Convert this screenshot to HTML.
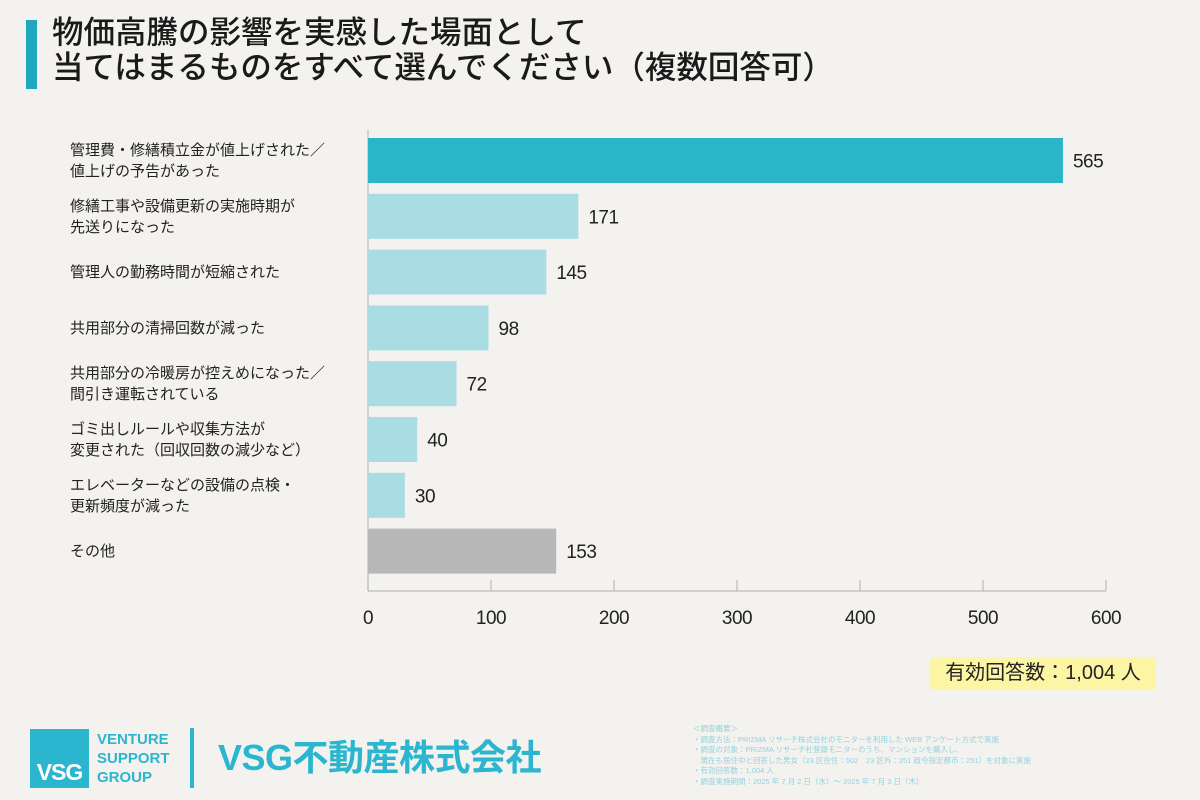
<!DOCTYPE html>
<html><head><meta charset="utf-8">
<style>
body{margin:0;width:1200px;height:800px;background:#f4f2ef;font-family:"Liberation Sans","Noto Sans CJK JP",sans-serif;overflow:hidden;position:relative;color:#222}
.t{position:absolute}
</style></head><body>
<div class="t" style="left:26px;top:20px;width:11px;height:69px;background:#1fa8bd"></div>
<div class="t" style="left:52px;top:15px;font-size:31.5px;line-height:35px;font-weight:500;color:#1a1a1a;white-space:nowrap">物価高騰の影響を実感した場面として<br>当てはまるものをすべて選んでください（複数回答可）</div>
<svg class="t" style="left:0;top:0" width="1200" height="800" id="chart"></svg>
<div class="t" style="left:930px;top:657px;width:226px;height:33px;background:#fbf5a4;border-radius:4px;font-size:20px;line-height:33px;text-align:center">有効回答数：1,004 人</div>
<div class="t" style="left:30px;top:729px;width:59px;height:59px;background:#2bb5cf;color:#fff;font-weight:bold;font-size:23px;line-height:24px;box-sizing:border-box;padding-top:31px;text-align:center;letter-spacing:-1px">VSG</div>
<div class="t" style="left:97px;top:730px;font-size:15px;line-height:19px;font-weight:bold;color:#2bb5cf">VENTURE<br>SUPPORT<br>GROUP</div>
<div class="t" style="left:190px;top:728px;width:4px;height:60px;background:#2bb5cf"></div>
<div class="t" style="left:218px;top:736px;font-size:36px;line-height:44px;font-weight:bold;color:#2bb5cf;letter-spacing:-0.5px;white-space:nowrap">VSG不動産株式会社</div>
<div class="t" style="left:693px;top:724px;font-size:7.5px;line-height:10.5px;color:#8fd3df">＜調査概要＞<br>・調査方法：PRIZMA リサーチ株式会社のモニターを利用した WEB アンケート方式で実施<br>・調査の対象：PRIZMA リサーチ社登録モニターのうち、マンションを購入し、<br>　現在も居住中と回答した男女（23 区在住：502　23 区外：251 政令指定都市：251）を対象に実施<br>・有効回答数：1,004 人<br>・調査実施期間：2025 年 7 月 2 日（水）～ 2025 年 7 月 3 日（木）</div>
<script>
const categories=[["管理費・修繕積立金が値上げされた／","値上げの予告があった"],["修繕工事や設備更新の実施時期が","先送りになった"],["管理人の勤務時間が短縮された"],["共用部分の清掃回数が減った"],["共用部分の冷暖房が控えめになった／","間引き運転されている"],["ゴミ出しルールや収集方法が","変更された（回収回数の減少など）"],["エレベーターなどの設備の点検・","更新頻度が減った"],["その他"]];
const values=[565,171,145,98,72,40,30,153];
const ticks=[0,100,200,300,400,500,600];
const svg=document.getElementById('chart');const NS='http://www.w3.org/2000/svg';
const x0=368,x1=1106,y0=132,step=55.8,bh=45,ay=591;
const xs=v=>x0+(x1-x0)*v/600;
function mk(t,a){const e=document.createElementNS(NS,t);for(const k in a)e.setAttribute(k,a[k]);svg.appendChild(e);return e;}
const ax=mk('line',{x1:x0,x2:x0,y1:130,y2:ay,stroke:'#bbb','stroke-width':1.2});


const bx=mk('line',{x1:x0,x2:x1,y1:ay,y2:ay,stroke:'#bbb','stroke-width':1.2});


ticks.forEach(t=>{
const tk=mk('line',{x1:xs(t),x2:xs(t),y1:ay-11,y2:ay,stroke:'#bbb','stroke-width':1.2});


const e=mk('text',{x:xs(t),y:624,'font-size':19,'text-anchor':'middle',fill:'#222','letter-spacing':'-0.5'});e.textContent=t;

});
values.forEach((v,i)=>{const yc=y0+6+i*step+bh/2;
const fill=i==0?'#2bb5c8':(i==values.length-1?'#b8b8b8':'#a9dde3');
const r=mk('rect',{x:x0,y:yc-bh/2,width:xs(v)-x0,height:bh,fill:fill});


const l=mk('text',{x:xs(v)+10,y:yc+7,'font-size':19,fill:'#222','letter-spacing':'-0.5'});l.textContent=v;


const c=categories[i];c.forEach((s,j)=>{const tt=mk('text',{x:70,y:yc+5+(j-(c.length-1)/2)*21,'font-size':15,fill:'#222'});tt.textContent=s;

});});
</script>
</body></html>
